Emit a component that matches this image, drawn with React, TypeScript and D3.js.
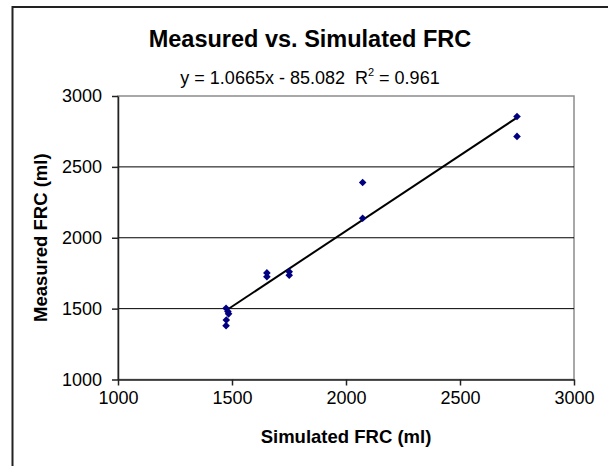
import { useEffect, useRef } from 'react';
import * as d3 from 'd3';

// simulated (x) vs measured (y) FRC, ml
const simulated = [1474, 1482, 1485, 1475, 1474, 1653, 1653, 1751, 1751, 2073, 2073, 2750, 2750];
const measured = [1503, 1480, 1463, 1420, 1380, 1752, 1725, 1760, 1735, 2390, 2138, 2855, 2715];

const xTicks = [1000, 1500, 2000, 2500, 3000];
const yTicks = [1000, 1500, 2000, 2500, 3000];

const slope = 1.0665;
const intercept = -85.082;
const rSquared = 0.961;

const title = 'Measured vs. Simulated FRC';
const xTitle = 'Simulated FRC (ml)';
const yTitle = 'Measured FRC (ml)';

export default function App() {
  const svgRef = useRef<SVGSVGElement>(null);

  useEffect(() => {
    if (!svgRef.current) return;
    const svg = d3.select(svgRef.current);
    svg.selectAll('*').remove();

    const font = '"Liberation Sans", Arial, sans-serif';
    const plot = { left: 118, right: 574, top: 96, bottom: 379.5 };

    const x = d3.scaleLinear().domain([1000, 3000]).range([plot.left, plot.right]);
    const y = d3.scaleLinear().domain([1000, 3000]).range([plot.bottom, plot.top]);

    // chart area border
    svg.append('rect')
      .attr('x', 12.5).attr('y', 7)
      .attr('width', 640).attr('height', 500)
      .attr('fill', '#fff')
      .attr('stroke', '#222')
      .attr('stroke-width', 2);

    // plot area border (gray)
    svg.append('rect')
      .attr('x', plot.left).attr('y', plot.top)
      .attr('width', plot.right - plot.left).attr('height', plot.bottom - plot.top)
      .attr('fill', '#fff')
      .attr('stroke', '#8c8c8c')
      .attr('stroke-width', 1.5);

    // gridlines
    svg.append('g')
      .selectAll('line')
      .data(yTicks.filter(t => t > 1000 && t < 3000))
      .enter().append('line')
      .attr('x1', plot.left).attr('x2', plot.right)
      .attr('y1', d => y(d)).attr('y2', d => y(d))
      .attr('stroke', '#000')
      .attr('stroke-width', 1);

    // axes
    const gx = svg.append('g')
      .attr('transform', `translate(0,${plot.bottom})`)
      .call(d3.axisBottom(x).tickValues(xTicks).tickFormat(d3.format('d')).tickSize(6).tickSizeOuter(0).tickPadding(6));
    gx.selectAll('text')
      .style('font-family', font).style('font-size', '18px').style('fill', '#000');

    const gy = svg.append('g')
      .attr('transform', `translate(${plot.left},0)`)
      .call(d3.axisLeft(y).tickValues(yTicks).tickFormat(d3.format('d')).tickSize(6).tickSizeOuter(0).tickPadding(10));
    gy.selectAll('text')
      .style('font-family', font).style('font-size', '18px').style('fill', '#000');

    svg.selectAll('.domain').attr('stroke', '#222').attr('stroke-width', 1.5);
    svg.selectAll('.tick line').attr('stroke', '#222').attr('stroke-width', 1.5);

    // trendline
    const xMin = d3.min(simulated) as number;
    const xMax = d3.max(simulated) as number;
    svg.append('line')
      .attr('x1', x(xMin)).attr('y1', y(slope * xMin + intercept))
      .attr('x2', x(xMax)).attr('y2', y(slope * xMax + intercept))
      .attr('stroke', '#000')
      .attr('stroke-width', 2);

    // diamond markers
    const points = simulated.map((s, i) => ({ s, m: measured[i] }));
    const r = 3.8;
    svg.append('g')
      .selectAll('path')
      .data(points)
      .enter().append('path')
      .attr('d', `M0,${-r}L${r},0L0,${r}L${-r},0Z`)
      .attr('transform', d => `translate(${x(d.s)},${y(d.m)})`)
      .attr('fill', '#000080');

    // titles
    svg.append('text')
      .attr('x', 310).attr('y', 47)
      .attr('text-anchor', 'middle')
      .style('font-family', font).style('font-size', '23.5px').style('font-weight', 'bold')
      .text(title);

    const eq = svg.append('text')
      .attr('x', 310).attr('y', 83.5)
      .attr('text-anchor', 'middle')
      .style('white-space', 'pre')
      .style('font-family', font).style('font-size', '18px');
    eq.append('tspan').text(`y = ${slope}x - ${Math.abs(intercept)}  R`);
    eq.append('tspan').attr('dy', -8).style('font-size', '11px').text('2');
    eq.append('tspan').attr('dy', 8).text(` = ${rSquared}`);

    svg.append('text')
      .attr('x', (plot.left + plot.right) / 2).attr('y', 443)
      .attr('text-anchor', 'middle')
      .style('font-family', font).style('font-size', '18.5px').style('font-weight', 'bold')
      .text(xTitle);

    svg.append('text')
      .attr('transform', `translate(46.5,${(plot.top + plot.bottom) / 2}) rotate(-90)`)
      .attr('text-anchor', 'middle')
      .style('font-family', font).style('font-size', '18.5px').style('font-weight', 'bold')
      .text(yTitle);
  }, []);

  return (
    <svg
      ref={svgRef}
      width={608}
      height={466}
      style={{ position: 'absolute', left: 0, top: 0, background: '#fff' }}
    />
  );
}
